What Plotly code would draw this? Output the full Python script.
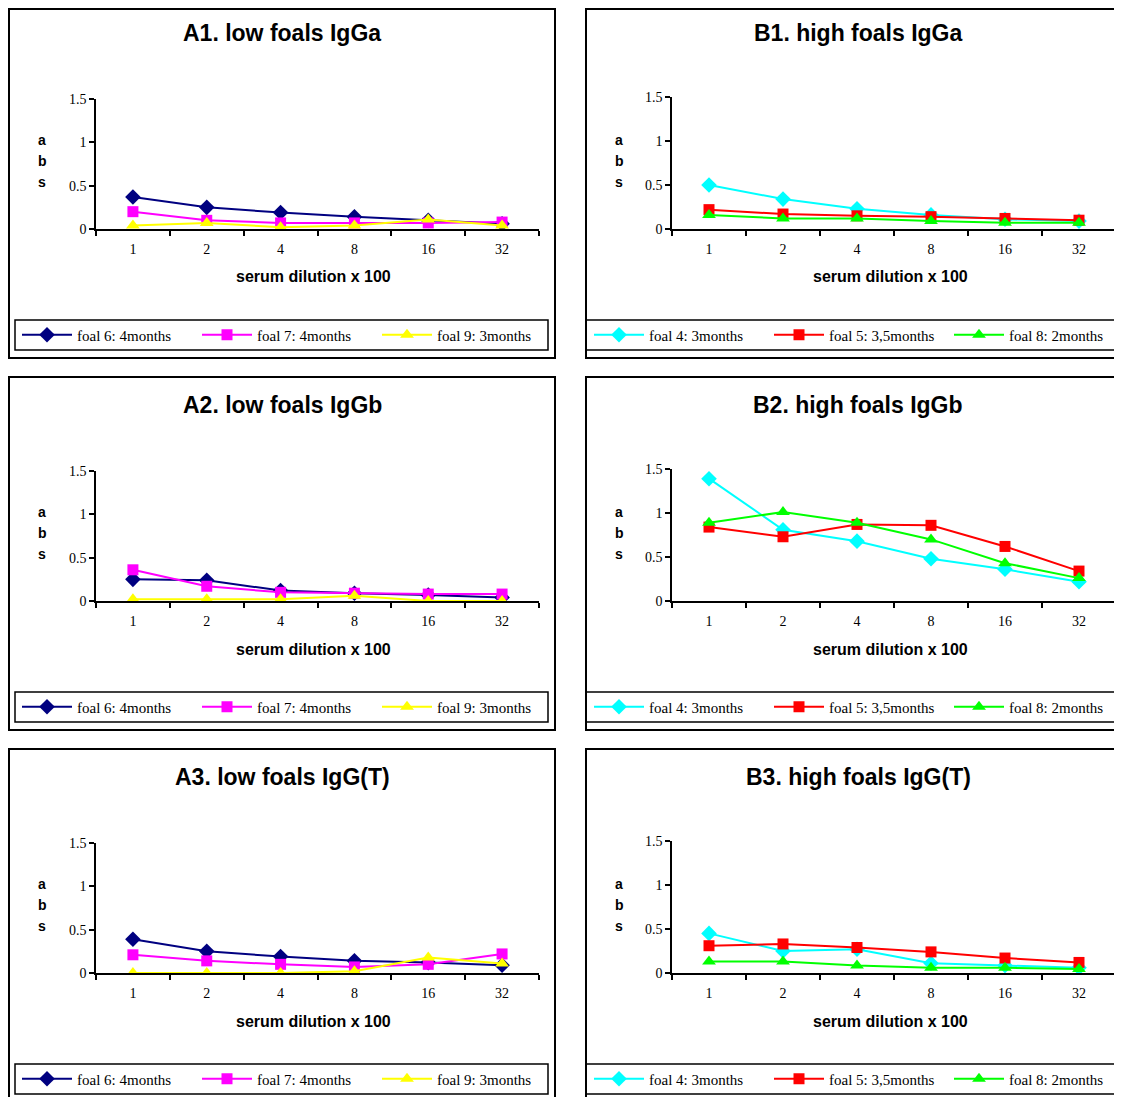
import plotly.graph_objects as go

W, H = 1122, 1097

dilutions = ["1", "2", "4", "8", "16", "32"]

titles = ["A1. low foals IgGa", "B1. high foals IgGa",
          "A2. low foals IgGb", "B2. high foals IgGb",
          "A3. low foals IgG(T)", "B3. high foals IgG(T)"]

low_names = ["foal 6: 4months", "foal 7: 4months", "foal 9: 3months"]
high_names = ["foal 4: 3months", "foal 5: 3,5months", "foal 8: 2months"]

low_colors = ["#000080", "#FF00FF", "#FFFF00"]
high_colors = ["#00FFFF", "#FF0000", "#00FF00"]
symbols = ["diamond", "square", "triangle-up"]

# A1 low foals IgGa
a1_foal6 = [0.37, 0.25, 0.19, 0.14, 0.10, 0.06]
a1_foal7 = [0.20, 0.10, 0.07, 0.07, 0.07, 0.08]
a1_foal9 = [0.04, 0.07, 0.02, 0.04, 0.11, 0.04]
# B1 high foals IgGa
b1_foal4 = [0.50, 0.34, 0.23, 0.16, 0.11, 0.09]
b1_foal5 = [0.22, 0.17, 0.15, 0.14, 0.12, 0.10]
b1_foal8 = [0.16, 0.12, 0.12, 0.09, 0.07, 0.07]
# A2 low foals IgGb
a2_foal6 = [0.25, 0.24, 0.12, 0.09, 0.07, 0.04]
a2_foal7 = [0.36, 0.17, 0.10, 0.09, 0.08, 0.08]
a2_foal9 = [0.02, 0.02, 0.02, 0.06, 0.00, 0.00]
# B2 high foals IgGb
b2_foal4 = [1.39, 0.81, 0.68, 0.48, 0.36, 0.22]
b2_foal5 = [0.84, 0.73, 0.87, 0.86, 0.62, 0.34]
b2_foal8 = [0.89, 1.01, 0.89, 0.70, 0.43, 0.26]
# A3 low foals IgG(T)
a3_foal6 = [0.39, 0.25, 0.19, 0.14, 0.12, 0.09]
a3_foal7 = [0.21, 0.14, 0.10, 0.07, 0.10, 0.22]
a3_foal9 = [0.00, 0.00, 0.00, 0.02, 0.18, 0.11]
# B3 high foals IgG(T)
b3_foal4 = [0.45, 0.25, 0.27, 0.11, 0.085, 0.06]
b3_foal5 = [0.31, 0.33, 0.29, 0.24, 0.17, 0.12]
b3_foal8 = [0.13, 0.13, 0.085, 0.06, 0.06, 0.045]

panels = [
    (a1_foal6, a1_foal7, a1_foal9),
    (b1_foal4, b1_foal5, b1_foal8),
    (a2_foal6, a2_foal7, a2_foal9),
    (b2_foal4, b2_foal5, b2_foal8),
    (a3_foal6, a3_foal7, a3_foal9),
    (b3_foal4, b3_foal5, b3_foal8),
]

OFF = 8  # page body margin offset

def px(x):
    return (x - OFF) / W

def py(y):
    return 1 - (y - OFF) / H

ROW = 372
SERIF = "Liberation Serif"
SANS = "Liberation Sans"

fig = go.Figure()
layout = dict(
    width=W, height=H, margin=dict(l=0, r=0, t=0, b=0, autoexpand=False),
    paper_bgcolor="white", plot_bgcolor="white", showlegend=True,
)
shapes = []
annotations = []

for i, series in enumerate(panels):
    row = i // 2
    is_b = (i % 2 == 1)
    names = high_names if is_b else low_names
    colors = high_colors if is_b else low_colors
    sfx = "" if i == 0 else str(i + 1)
    lg = "legend" if i == 0 else "legend%d" % (i + 1)
    off = row * ROW

    for j, vals in enumerate(series):
        fig.add_trace(go.Scatter(
            x=dilutions, y=vals, name=names[j], mode="lines+markers",
            line=dict(color=colors[j], width=2),
            marker=dict(symbol=symbols[j], size=12 if j != 1 else 11, color=colors[j]),
            xaxis="x" + sfx, yaxis="y" + sfx, legend=lg,
        ))

    if is_b:
        x0p, x1p, ytop = 672, 1116, 97
        bx0, bx1 = 586, 1140
        cx, abs_x = 858, 619
        lgx0, lgx1 = 586, 1140
        legx = 589
    else:
        x0p, x1p, ytop = 96, 539, 99
        bx0, bx1 = 9, 555
        cx, abs_x = 282, 42
        lgx0, lgx1 = 15, 548
        legx = 17
    ybot = 229
    top_border = 9 if row == 0 else 5 + off

    layout["xaxis" + sfx] = dict(
        domain=[px(x0p), px(x1p)], anchor="y" + sfx,
        type="category", categoryorder="array", categoryarray=dilutions,
        range=[-0.5, 5.5], tickson="boundaries", ticks="outside", ticklen=5,
        tickwidth=1.5, tickcolor="black", ticklabelstandoff=6,
        showline=True, linecolor="black", linewidth=1.5, showgrid=False,
        tickfont=dict(family=SERIF, size=14, color="black"),
        fixedrange=True,
    )
    layout["yaxis" + sfx] = dict(
        domain=[py(ybot + off), py(ytop + off)], anchor="x" + sfx,
        range=[0, 1.5], tickvals=[0, 0.5, 1, 1.5], ticktext=["0", "0.5", "1", "1.5"],
        ticks="outside", ticklen=5, tickwidth=1.5, tickcolor="black",
        showline=True, linecolor="black", linewidth=1.5, showgrid=False,
        zeroline=False, tickfont=dict(family=SERIF, size=14, color="black"),
        fixedrange=True,
    )
    layout[lg] = dict(
        orientation="h", x=px(legx), y=py(335 + off), xanchor="left", yanchor="middle",
        font=dict(family=SERIF, size=15, color="black"),
        entrywidth=115, entrywidthmode="pixels", itemwidth=50,
        bgcolor="rgba(0,0,0,0)", borderwidth=0,
    )

    # panel border
    shapes.append(dict(type="rect", xref="paper", yref="paper",
                       x0=px(bx0), x1=px(bx1), y0=py(358 + off), y1=py(top_border),
                       line=dict(color="black", width=2), fillcolor="rgba(0,0,0,0)"))
    # legend box
    shapes.append(dict(type="rect", xref="paper", yref="paper",
                       x0=px(lgx0), x1=px(lgx1), y0=py(350 + off), y1=py(320 + off),
                       line=dict(color="black", width=1.5), fillcolor="rgba(0,0,0,0)"))

    annotations.append(dict(text="<b>%s</b>" % titles[i], xref="paper", yref="paper",
                            x=px(cx), y=py(33 + off), showarrow=False,
                            xanchor="center", yanchor="middle",
                            font=dict(family=SANS, size=23, color="black")))
    annotations.append(dict(text="<b>serum dilution x 100</b>", xref="paper", yref="paper",
                            x=px((x0p + x1p) / 2 - 4), y=py(277 + off), showarrow=False,
                            xanchor="center", yanchor="middle",
                            font=dict(family=SANS, size=16, color="black")))
    for k, ch in enumerate("abs"):
        annotations.append(dict(text="<b>%s</b>" % ch, xref="paper", yref="paper",
                                x=px(abs_x), y=py(140 + 21 * k + off), showarrow=False,
                                xanchor="center", yanchor="middle",
                                font=dict(family=SANS, size=14, color="black")))

layout["shapes"] = shapes
layout["annotations"] = annotations
fig.update_layout(**layout)

fig.write_html("out.html")
